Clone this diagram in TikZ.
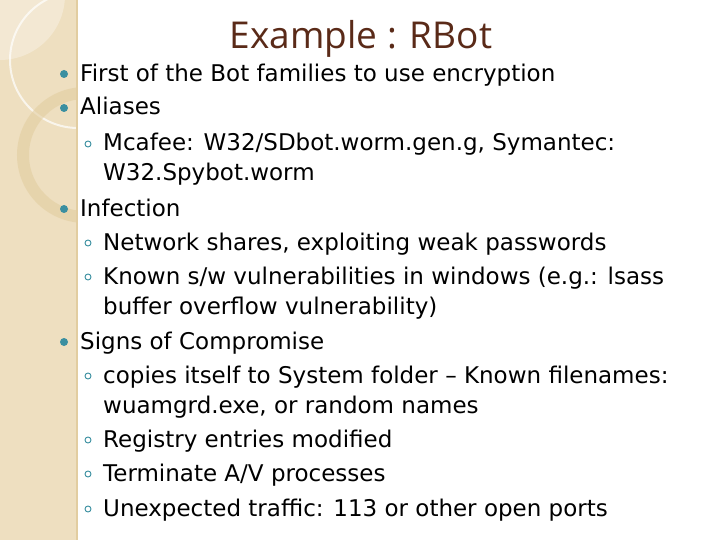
\documentclass[tikz,border=0pt]{standalone}
\usepackage{fontspec}
\setmainfont{DejaVu Sans}
\newfontfamily\titlefont{Open Sans}
\definecolor{beige}{HTML}{EEDFC0}
\definecolor{beigeD}{HTML}{E2CDA0}
\definecolor{titlebrown}{HTML}{5A2A18}
\definecolor{dotblue}{HTML}{3A8FA0}
\begin{document}
\begin{tikzpicture}[x=1pt,y=-1pt,
  line/.style={anchor=base west,inner sep=0pt,font=\fontsize{23}{26}\selectfont},
  dot/.style={circle,fill=dotblue,inner sep=0pt,minimum size=8pt},
  sub/.style={circle,draw=dotblue,line width=0.9pt,inner sep=0pt,minimum size=6pt}]
\useasboundingbox (0,0) rectangle (720,540);
\fill[white] (0,0) rectangle (720,540);
\begin{scope}
\clip (0,0) rectangle (77,540);
\fill[beige] (0,0) rectangle (77,540);
\fill[white,opacity=0.3] (0,-5) circle (65);
\draw[white,line width=2pt,opacity=0.7] (78,60) circle (68);
\draw[beigeD,line width=12pt,opacity=0.6] (85,155) circle (62);
\end{scope}
\draw[beigeD,line width=1.5pt] (77,0) -- (77,540);
\node[anchor=base,inner sep=0pt,font=\titlefont\fontsize{37}{42}\selectfont,text=titlebrown] (title) at (361,49) {Example : RBot};
\node[dot] (d1) at (64,74) {};
\node[line] (l1) at (80,82) {First of the Bot families to use encryption};
\node[dot] (d2) at (64,108) {};
\node[line] (l2) at (80,115) {Aliases};
\node[sub] (s1) at (88,144) {};
\node[line] (l3) at (103,151) {Mcafee: W32/SDbot.worm.gen.g, Symantec:};
\node[line] (l4) at (103,181) {W32.Spybot.worm};
\node[dot] (d3) at (64,209) {};
\node[line] (l5) at (80,216) {Infection};
\node[sub] (s2) at (88,243) {};
\node[line] (l6) at (103,250) {Network shares, exploiting weak passwords};
\node[sub] (s3) at (88,277) {};
\node[line] (l7) at (103,284) {Known s/w vulnerabilities in windows (e.g.: lsass};
\node[line] (l8) at (103,314) {buffer overflow vulnerability)};
\node[dot] (d4) at (64,342) {};
\node[line] (l9) at (80,349) {Signs of Compromise};
\node[sub] (s4) at (88,376) {};
\node[line] (l10) at (103,383) {copies itself to System folder – Known filenames:};
\node[line] (l11) at (103,413) {wuamgrd.exe, or random names};
\node[sub] (s5) at (88,440) {};
\node[line] (l12) at (103,447) {Registry entries modified};
\node[sub] (s6) at (88,474) {};
\node[line] (l13) at (103,481) {Terminate A/V processes};
\node[sub] (s7) at (88,509) {};
\node[line] (l14) at (103,516) {Unexpected traffic: 113 or other open ports};
\end{tikzpicture}
\end{document}
